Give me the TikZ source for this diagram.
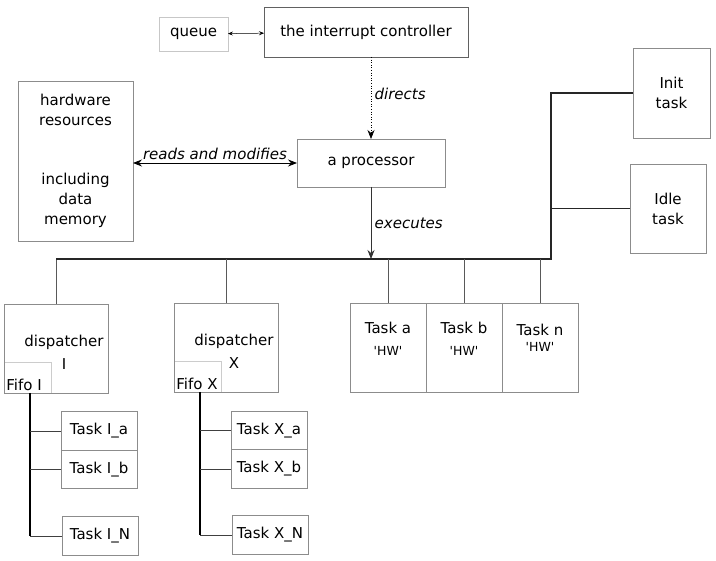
\documentclass[tikz,border=0pt]{standalone}
\usepackage{fontspec}
\setmainfont{DejaVu Sans}
\usepackage{tikz}
\usetikzlibrary{shapes,arrows,arrows.meta,positioning}

\begin{document}
\begin{tikzpicture}[x=1pt,y=-1pt,>={Stealth[length=9pt,width=7pt,inset=3pt]},line width=0.8pt,
    font=\fontsize{15}{20}\selectfont,
    box/.style={draw=black!45,outer sep=0pt,align=center},
    tbox/.style={box,minimum width=76pt,minimum height=89pt},
    sub/.style={box,minimum width=76pt,minimum height=38.5pt},
    fifo/.style={box,draw=black!20,minimum width=47pt,minimum height=31pt}]
      \useasboundingbox (0,0) rectangle (716,561);

      \node[box,draw=black!22,minimum width=69pt,minimum height=34pt](q) at (193.5,34){queue};
      \node[box,draw=black!62,minimum width=204pt,minimum height=50pt](ic) at (366,32){the interrupt controller};
      \node[box,minimum width=115pt,minimum height=160pt](hw) at (75.5,161){hardware\\resources\\[39pt]including\\data\\memory};
      \node[box,minimum width=148pt,minimum height=48pt](cpu) at (371,163){a processor};
      \node[box,minimum width=77pt,minimum height=90pt](init) at (671.5,93){Init\\task};
      \node[box,minimum width=76pt,minimum height=89pt](idle) at (668,208.5){Idle\\task};

      \node[fifo,label={[anchor=south west,inner sep=2pt]south west:Fifo I}](fI) at (27.5,377.5){};
      \node[box,minimum width=104pt,minimum height=89pt](dI) at (56,348.5){};
      \node[align=center] at (64,352){dispatcher\\[3pt]I};
      \node[fifo,label={[anchor=south west,inner sep=2pt]south west:Fifo X}](fX) at (197.5,377){};
      \node[box,minimum width=104pt,minimum height=89pt](dX) at (226,347.5){};
      \node[align=center] at (234,351.5){dispatcher\\[3pt]X};

      \node[tbox](ta) at (388,347.5){};
      \node[tbox,right=0pt of ta](tb){};
      \node[tbox,right=0pt of tb](tn){};
      \node[below=15pt of ta.north,align=center]{Task a\\[2pt]{\fontsize{12.5}{15}\selectfont\textquotesingle HW\textquotesingle}};
      \node[below=15pt of tb.north,align=center]{Task b\\[2pt]{\fontsize{12.5}{15}\selectfont\textquotesingle HW\textquotesingle}};
      \node[below=17pt of tn.north,align=center]{Task n\\[-4pt]{\fontsize{12.5}{15}\selectfont\textquotesingle HW\textquotesingle}};

      \node[sub](tIa) at (99,431){Task I\_a};
      \node[sub,below=0pt of tIa](tIb){Task I\_b};
      \node[sub](tIN) at (100,536){Task I\_N};
      \node[sub](tXa) at (269,430.5){Task X\_a};
      \node[sub,below=0pt of tXa](tXb){Task X\_b};
      \node[sub](tXN) at (270,535){Task X\_N};

      \coordinate(bus) at (551,259);
      \coordinate(tI) at (30,393);
      \coordinate(tX) at (200,392);

      \draw[{Stealth[length=5pt,width=4pt,inset=2pt]}-{Stealth[length=5pt,width=4pt,inset=2pt]},line width=0.5pt] (q) -- (ic);
      \draw[dotted,->,line width=0.6pt] (cpu.north |- ic.south) -- (cpu.north) node[pos=0.45,right]{\textit{directs}};
      \draw[<->] (hw.east |- cpu.west) -- (cpu.west) node[midway,above]{\textit{reads and modifies}};
      \draw[->,black!80] (cpu.south) -- (cpu.south |- bus) node[midway,right,black]{\textit{executes}};

      \draw[black!65] (dI.north) -- (dI.north |- bus);
      \draw[line width=1.2pt,black!85] (dI.north |- bus) -- (bus) |- (init.west);
      \draw[black!85] (bus |- idle.west) -- (idle.west);
      \draw[black!65] (dX.north) -- (dX.north |- bus);
      \foreach \t in {ta,tb,tn}
        \draw[black!65] (\t.north) -- (\t.north |- bus);

      \draw[line width=1.6pt] (tI) -- (tI |- tIN.west);
      \draw[line width=1.6pt] (tX) -- (tX |- tXN.west);
      \foreach \t in {tIa,tIb,tIN}
        \draw[black!75] (tI |- \t.west) -- (\t.west);
      \foreach \t in {tXa,tXb,tXN}
        \draw[black!75] (tX |- \t.west) -- (\t.west);

    \end{tikzpicture}
\end{document}
